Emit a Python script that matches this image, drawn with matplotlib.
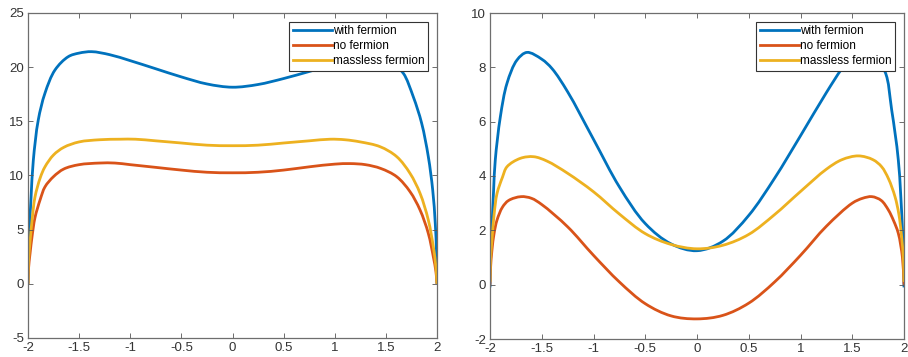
import matplotlib
matplotlib.use("Agg")
import matplotlib.pyplot as plt
import numpy as np
from matplotlib.path import Path
from matplotlib.patches import PathPatch

# MATLAB default line colours
C_WITH = "#0072BD"
C_NO = "#D95319"
C_MASSLESS = "#EDB120"
LABELS = ["with fermion", "no fermion", "massless fermion"]

# ---- left panel -------------------------------------------------------
left_with_x = [-2, -1.995, -1.985, -1.97, -1.948, -1.9, -1.834, -1.736, -1.606, -1.5,
               -1.377, -1.2, -1.0, -0.75, -0.5, -0.25, 0, 0.25, 0.5, 0.75, 1.0,
               1.25, 1.45, 1.6, 1.671, 1.768, 1.85, 1.915, 1.958, 1.983, 1.995, 2]
left_with_y = [0, 3.0, 5.2, 8.0, 11.4, 15.1, 17.6, 19.74, 20.97, 21.3,
               21.43, 21.15, 20.6, 19.85, 19.1, 18.45, 18.15, 18.4, 18.95, 19.6, 20.25,
               20.8, 20.7, 20.0, 19.43, 17.27, 14.82, 11.74, 8.66, 5.59, 3.0, 0]

left_no_x = [-2, -1.995, -1.98, -1.96, -1.932, -1.88, -1.834, -1.75, -1.65, -1.5,
             -1.3, -1.15, -1.0, -0.75, -0.5, -0.25, 0, 0.25, 0.5, 0.75, 1.0,
             1.15, 1.3, 1.45, 1.606, 1.736, 1.834, 1.915, 1.964, 1.99, 2]
left_no_y = [0, 1.4, 2.8, 4.4, 6.1, 7.8, 8.95, 9.9, 10.6, 11.0,
             11.15, 11.15, 11.0, 10.75, 10.5, 10.3, 10.25, 10.3, 10.5, 10.8, 11.05,
             11.1, 11.0, 10.65, 9.89, 8.51, 6.82, 4.66, 2.5, 1.1, 0]

left_massless_x = [-2, -1.995, -1.98, -1.96, -1.932, -1.88, -1.834, -1.75, -1.65, -1.5,
                   -1.3, -1.1, -0.95, -0.75, -0.5, -0.25, 0, 0.25, 0.5, 0.75, 0.954,
                   1.1, 1.25, 1.443, 1.606, 1.736, 1.834, 1.915, 1.964, 1.99, 2]
left_massless_y = [0, 2.0, 3.9, 5.9, 8.0, 9.8, 10.8, 11.9, 12.6, 13.1,
                   13.3, 13.35, 13.35, 13.2, 13.0, 12.8, 12.75, 12.8, 13.0, 13.2, 13.35,
                   13.3, 13.1, 12.66, 11.74, 10.2, 8.36, 5.89, 3.43, 1.5, 0]

# ---- right panel ------------------------------------------------------
right_with_x = [-2, -1.995, -1.981, -1.965, -1.949, -1.9, -1.836, -1.739, -1.643, -1.5,
                -1.4, -1.25, -1.0, -0.75, -0.5, -0.25, 0, 0.25, 0.5, 0.75, 1.0,
                1.25, 1.4, 1.5, 1.6, 1.7, 1.816, 1.881, 1.945, 1.984, 1.995, 2]
right_with_y = [-0.1, 1.0, 2.14, 3.5, 4.59, 6.18, 7.41, 8.27, 8.55, 8.3,
                7.95, 7.1, 5.35, 3.6, 2.25, 1.5, 1.25, 1.6, 2.55, 3.92, 5.48,
                7.07, 7.95, 8.4, 8.55, 8.4, 7.84, 6.43, 4.59, 2.14, 1.0, -0.1]

right_no_x = [-2, -1.995, -1.981, -1.96, -1.932, -1.88, -1.82, -1.7, -1.6, -1.5,
              -1.25, -1.0, -0.75, -0.5, -0.25, 0, 0.25, 0.5, 0.75, 1.0,
              1.25, 1.5, 1.6, 1.69, 1.78, 1.849, 1.9, 1.945, 1.985, 2]
right_no_y = [0, 0.6, 1.28, 1.9, 2.38, 2.85, 3.1, 3.24, 3.18, 2.95,
              2.13, 1.08, 0.1, -0.7, -1.15, -1.26, -1.13, -0.68, 0.1, 1.08,
              2.15, 3.0, 3.18, 3.24, 3.1, 2.75, 2.35, 1.89, 1.0, 0]

right_massless_x = [-2, -1.995, -1.981, -1.96, -1.932, -1.88, -1.836, -1.707, -1.578, -1.45,
                    -1.25, -1.0, -0.75, -0.5, -0.25, 0, 0.25, 0.5, 0.75, 1.0,
                    1.25, 1.4, 1.559, 1.7, 1.784, 1.85, 1.913, 1.95, 1.977, 1.995, 2]
right_massless_y = [0.1, 0.9, 1.65, 2.6, 3.36, 3.95, 4.34, 4.65, 4.71, 4.55,
                    4.1, 3.42, 2.6, 1.88, 1.48, 1.32, 1.45, 1.85, 2.58, 3.43,
                    4.25, 4.6, 4.74, 4.6, 4.34, 3.9, 3.24, 2.6, 1.77, 0.9, 0.1]

x_ticks = [-2, -1.5, -1, -0.5, 0, 0.5, 1, 1.5, 2]
x_ticklabels = ["-2", "-1.5", "-1", "-0.5", "0", "0.5", "1", "1.5", "2"]
left_yticks = [-5, 0, 5, 10, 15, 20, 25]
right_yticks = [-2, 0, 2, 4, 6, 8, 10]


def smooth_path(x, y, sx, sy):
    """Centripetal Catmull-Rom through the read points, as cubic Bezier segments."""
    P = np.column_stack([x, y]).astype(float)
    S = np.array([1.0 / sx, 1.0 / sy])          # distance metric ~ screen space
    P_ext = np.vstack([2 * P[0] - P[1], P, 2 * P[-1] - P[-2]])
    verts = [P[0]]
    codes = [Path.MOVETO]
    for i in range(1, len(P_ext) - 2):
        p0, p1, p2, p3 = P_ext[i - 1], P_ext[i], P_ext[i + 1], P_ext[i + 2]
        d1 = np.linalg.norm((p1 - p0) * S) ** 0.5 + 1e-9
        d2 = np.linalg.norm((p2 - p1) * S) ** 0.5 + 1e-9
        d3 = np.linalg.norm((p3 - p2) * S) ** 0.5 + 1e-9
        b1 = (d1 ** 2 * p2 - d2 ** 2 * p0 + (2 * d1 ** 2 + 3 * d1 * d2 + d2 ** 2) * p1) / (3 * d1 * (d1 + d2))
        b2 = (d3 ** 2 * p1 - d2 ** 2 * p3 + (2 * d3 ** 2 + 3 * d3 * d2 + d2 ** 2) * p2) / (3 * d3 * (d3 + d2))
        verts += [b1, b2, p2]
        codes += [Path.CURVE4] * 3
    return Path(verts, codes)


plt.rcParams["font.family"] = ["Liberation Sans", "DejaVu Sans"]
fig = plt.figure(figsize=(9.08, 3.57), dpi=100)
ax1 = fig.add_axes([28 / 908, 1 - 338 / 357, 409 / 908, 325 / 357])
ax2 = fig.add_axes([490 / 908, 1 - 339 / 357, 414 / 908, 326 / 357])


def draw(ax, series, yticks, w_px, h_px):
    sx = 4.0 / w_px
    sy = (yticks[-1] - yticks[0]) / h_px
    for (x, y), c, lab in zip(series, [C_WITH, C_NO, C_MASSLESS], LABELS):
        ax.add_patch(PathPatch(smooth_path(x, y, sx, sy), fill=False, edgecolor=c,
                               lw=2, capstyle="butt", joinstyle="round"))
        ax.plot([], [], color=c, lw=2, label=lab)
    ax.set_xlim(-2, 2)
    ax.set_ylim(yticks[0], yticks[-1])
    ax.set_xticks(x_ticks)
    ax.set_xticklabels(x_ticklabels)
    ax.set_yticks(yticks)
    ax.set_yticklabels([str(v) for v in yticks])
    ax.tick_params(direction="in", top=True, right=True, length=3.5, width=0.6,
                   color="#555555", labelcolor="#333333", labelsize=9.5, pad=3)
    for s in ax.spines.values():
        s.set_color("#6e6e6e")
        s.set_linewidth(0.9)
    leg = ax.legend(loc="upper right", fontsize=8.5, fancybox=False, framealpha=1,
                    edgecolor="#333333", handlelength=3.3, handletextpad=0.1,
                    labelspacing=0.25, borderpad=0.3, borderaxespad=0.75)
    leg.get_frame().set_linewidth(0.8)


draw(ax1, [(left_with_x, left_with_y), (left_no_x, left_no_y),
           (left_massless_x, left_massless_y)], left_yticks, 409, 325)
draw(ax2, [(right_with_x, right_with_y), (right_no_x, right_no_y),
           (right_massless_x, right_massless_y)], right_yticks, 414, 326)

fig.savefig("out.png", dpi=100)
